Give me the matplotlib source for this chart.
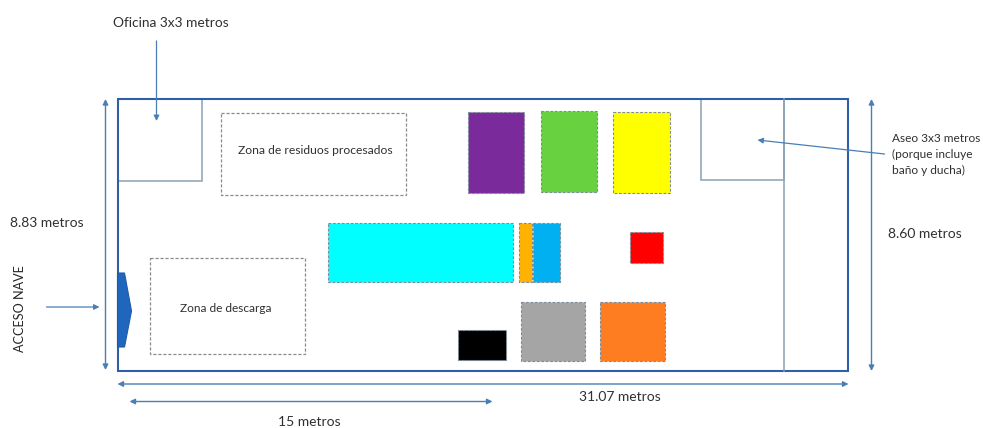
import matplotlib.pyplot as plt
from matplotlib.patches import Polygon, Rectangle

plt.rcParams['font.family'] = ['Lato', 'DejaVu Sans']

# plano de la nave, todo en pixeles de la imagen: (x0, y0, x1, y1)
nave = (118, 98.5, 848.5, 371)
oficina = (118, 98.5, 202, 181)
aseo = (701.5, 98.5, 784.5, 180)
zonas = [(221, 112.5, 406, 195), (150.5, 257.5, 305, 354)]

maquinas = [(468.5, 111.5, 524.5, 193), (541, 110.5, 597.5, 192),
            (613, 111.5, 670, 193), (328, 222.5, 513.5, 281.5),
            (519, 222.5, 532, 281.5), (533.5, 222.5, 560.5, 281.5),
            (630.5, 232, 663, 263), (458, 330, 506, 360),
            (521, 302, 585.5, 361), (600, 302, 665.5, 361)]
colores = ['#7b2a9c', '#68d140', '#ffff00', '#00ffff', '#ffb300', '#00b0f0',
           '#ff0000', '#000000', '#a5a5a5', '#ff7d21']

puerta = [(118, 273), (125, 273), (132, 311), (125, 347), (118, 347)]

flechas_dobles = [((106, 99), (106, 370)), ((872, 99), (872, 371)),
                  ((118, 384), (849, 384)), ((130, 401.5), (493, 401.5))]
flechas = [((157, 41), (157, 121)), ((47, 307), (100, 307)), ((885, 154), (758, 140))]

textos = [(171.5, 23, 'Oficina 3x3 metros', 9.9), (315.5, 151, 'Zona de residuos procesados', 8.75),
          (47.5, 223, '8.83 metros', 10), (226, 309, 'Zona de descarga', 8.6),
          (310, 422, '15 metros', 10), (620, 397, '31.07 metros', 10),
          (925, 233.5, '8.60 metros', 10)]

fig = plt.figure(figsize=(9.83, 4.28), dpi=100)
ax = fig.add_axes([0, 0, 1, 1])
ax.set_xlim(0.5, 983.5)
ax.set_ylim(428, 0)
ax.axis('off')


def caja(r, **kw):
    ax.add_patch(Rectangle((r[0], r[1]), r[2] - r[0], r[3] - r[1], **kw))


for m, c in zip(maquinas, colores):
    caja(m, facecolor=c, edgecolor='#7f8c99', linewidth=0.8, linestyle=(0, (2.5, 1.5)))
for z in zonas:
    caja(z, facecolor='none', edgecolor='#8a8a8a', linewidth=0.9, linestyle=(0, (2.5, 1.5)))

caja(oficina, facecolor='none', edgecolor='#8aa0b4', linewidth=1.1)
caja(aseo, facecolor='none', edgecolor='#8aa0b4', linewidth=1.1)
ax.plot([aseo[2], aseo[2]], [nave[1], nave[3]], color='#8aa0b4', linewidth=1.1)
caja(nave, facecolor='none', edgecolor='#2f5fa8', linewidth=1.5)
ax.add_patch(Polygon(puerta, closed=True, facecolor='#1f66bd', edgecolor='#1f5aa8', linewidth=0.8))

for a, b in flechas_dobles:
    ax.annotate('', xy=b, xytext=a,
                arrowprops=dict(arrowstyle='<|-|>', color='#4a7fb5', linewidth=1.0,
                                shrinkA=0, shrinkB=0, mutation_scale=8))
for a, b in flechas:
    ax.annotate('', xy=b, xytext=a,
                arrowprops=dict(arrowstyle='-|>', color='#4a7fb5', linewidth=0.9,
                                shrinkA=0, shrinkB=0, mutation_scale=8))

for x, y, t, s in textos:
    ax.text(x, y, t, fontsize=s, ha='center', va='center', color='#303030')
ax.text(21, 309, 'ACCESO NAVE', fontsize=9.1, rotation=90, ha='center', va='center', color='#262626')
for y, t in zip([139, 154, 170], ['Aseo 3x3 metros', '(porque incluye', 'baño y ducha)']):
    ax.text(892, y, t, fontsize=8.6, ha='left', va='center', color='#303030')

fig.savefig('out.png', dpi=100)
